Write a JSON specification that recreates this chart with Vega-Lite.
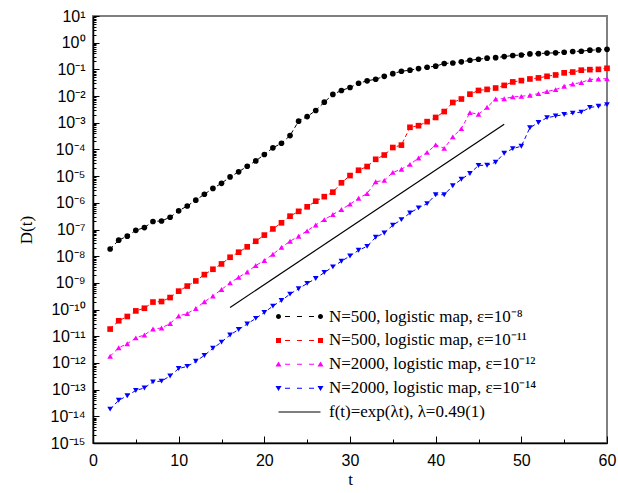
{
  "$schema": "https://vega.github.io/schema/vega-lite/v6.json",
  "width": 514,
  "height": 427,
  "autosize": {"type": "none"},
  "padding": {"left": 93, "top": 16, "right": 11, "bottom": 50},
  "config": {
    "view": {"stroke": "#808080", "strokeWidth": 2},
    "axis": {"domainColor": "#000000", "tickColor": "#000000", "labelColor": "#000000", "titleColor": "#000000", "grid": false},
    "legend": {"labelFont": "Liberation Serif", "labelFontSize": 17, "labelColor": "#000000", "labelLimit": 0}
  },
  "data": {
    "values": [
      {"t": 2, "eps8": 1.86e-8, "eps11": 1.86e-11, "eps12": 1.78e-12, "eps14": 1.86e-14},
      {"t": 3, "eps8": 3.98e-8, "eps11": 3.80e-11, "eps12": 3.72e-12, "eps14": 3.98e-14},
      {"t": 4, "eps8": 5.62e-8, "eps11": 5.50e-11, "eps12": 5.25e-12, "eps14": 5.89e-14},
      {"t": 5, "eps8": 9.33e-8, "eps11": 8.91e-11, "eps12": 8.71e-12, "eps14": 9.33e-14},
      {"t": 6, "eps8": 1.18e-7, "eps11": 1.12e-10, "eps12": 1.12e-11, "eps14": 1.15e-13},
      {"t": 7, "eps8": 2.00e-7, "eps11": 1.91e-10, "eps12": 1.86e-11, "eps14": 1.95e-13},
      {"t": 8, "eps8": 2.09e-7, "eps11": 2.00e-10, "eps12": 2.04e-11, "eps14": 2.09e-13},
      {"t": 9, "eps8": 2.88e-7, "eps11": 2.82e-10, "eps12": 3.02e-11, "eps14": 3.24e-13},
      {"t": 10, "eps8": 5.01e-7, "eps11": 4.90e-10, "eps12": 5.75e-11, "eps14": 6.17e-13},
      {"t": 11, "eps8": 7.59e-7, "eps11": 7.59e-10, "eps12": 7.08e-11, "eps14": 7.41e-13},
      {"t": 12, "eps8": 1.26e-6, "eps11": 1.18e-9, "eps12": 1.10e-10, "eps14": 1.15e-12},
      {"t": 13, "eps8": 2.09e-6, "eps11": 2.04e-9, "eps12": 1.95e-10, "eps14": 1.91e-12},
      {"t": 14, "eps8": 3.47e-6, "eps11": 3.24e-9, "eps12": 3.24e-10, "eps14": 3.55e-12},
      {"t": 15, "eps8": 5.37e-6, "eps11": 5.13e-9, "eps12": 5.62e-10, "eps14": 6.03e-12},
      {"t": 16, "eps8": 9.33e-6, "eps11": 9.12e-9, "eps12": 1.00e-9, "eps14": 1.12e-11},
      {"t": 17, "eps8": 1.45e-5, "eps11": 1.41e-8, "eps12": 1.62e-9, "eps14": 1.78e-11},
      {"t": 18, "eps8": 2.34e-5, "eps11": 2.24e-8, "eps12": 2.57e-9, "eps14": 2.88e-11},
      {"t": 19, "eps8": 3.72e-5, "eps11": 3.63e-8, "eps12": 4.47e-9, "eps14": 4.68e-11},
      {"t": 20, "eps8": 6.46e-5, "eps11": 6.17e-8, "eps12": 6.92e-9, "eps14": 7.76e-11},
      {"t": 21, "eps8": 1.15e-4, "eps11": 1.05e-7, "eps12": 1.18e-8, "eps14": 1.35e-10},
      {"t": 22, "eps8": 1.70e-4, "eps11": 1.78e-7, "eps12": 2.14e-8, "eps14": 2.19e-10},
      {"t": 23, "eps8": 3.31e-4, "eps11": 3.16e-7, "eps12": 3.63e-8, "eps14": 3.80e-10},
      {"t": 24, "eps8": 1.15e-3, "eps11": 4.79e-7, "eps12": 5.62e-8, "eps14": 6.03e-10},
      {"t": 25, "eps8": 1.70e-3, "eps11": 7.08e-7, "eps12": 8.91e-8, "eps14": 9.55e-10},
      {"t": 26, "eps8": 2.88e-3, "eps11": 1.15e-6, "eps12": 1.48e-7, "eps14": 1.45e-9},
      {"t": 27, "eps8": 5.89e-3, "eps11": 1.70e-6, "eps12": 2.34e-7, "eps14": 2.45e-9},
      {"t": 28, "eps8": 1.15e-2, "eps11": 2.51e-6, "eps12": 3.63e-7, "eps14": 3.98e-9},
      {"t": 29, "eps8": 1.62e-2, "eps11": 5.62e-6, "eps12": 5.62e-7, "eps14": 6.46e-9},
      {"t": 30, "eps8": 2.09e-2, "eps11": 1.05e-5, "eps12": 8.91e-7, "eps14": 1.02e-8},
      {"t": 31, "eps8": 3.02e-2, "eps11": 1.66e-5, "eps12": 1.48e-6, "eps14": 1.66e-8},
      {"t": 32, "eps8": 3.72e-2, "eps11": 2.29e-5, "eps12": 2.24e-6, "eps14": 2.34e-8},
      {"t": 33, "eps8": 4.27e-2, "eps11": 4.27e-5, "eps12": 6.17e-6, "eps14": 5.13e-8},
      {"t": 34, "eps8": 5.50e-2, "eps11": 6.17e-5, "eps12": 6.92e-6, "eps14": 7.41e-8},
      {"t": 35, "eps8": 6.92e-2, "eps11": 1.18e-4, "eps12": 1.38e-5, "eps14": 1.45e-7},
      {"t": 36, "eps8": 8.51e-2, "eps11": 1.45e-4, "eps12": 1.82e-5, "eps14": 2.34e-7},
      {"t": 37, "eps8": 9.33e-2, "eps11": 6.76e-4, "eps12": 2.75e-5, "eps14": 4.17e-7},
      {"t": 38, "eps8": 0.107, "eps11": 7.76e-4, "eps12": 4.79e-5, "eps14": 6.46e-7},
      {"t": 39, "eps8": 0.120, "eps11": 1.10e-3, "eps12": 7.76e-5, "eps14": 9.33e-7},
      {"t": 40, "eps8": 0.132, "eps11": 1.58e-3, "eps12": 1.48e-4, "eps14": 2.00e-6},
      {"t": 41, "eps8": 0.166, "eps11": 2.63e-3, "eps12": 1.10e-4, "eps14": 2.00e-6},
      {"t": 42, "eps8": 0.174, "eps11": 5.75e-3, "eps12": 2.95e-4, "eps14": 4.37e-6},
      {"t": 43, "eps8": 0.191, "eps11": 7.76e-3, "eps12": 6.03e-4, "eps14": 7.59e-6},
      {"t": 44, "eps8": 0.219, "eps11": 1.18e-2, "eps12": 2.40e-3, "eps14": 1.26e-5},
      {"t": 45, "eps8": 0.240, "eps11": 1.62e-2, "eps12": 2.09e-3, "eps14": 2.51e-5},
      {"t": 46, "eps8": 0.263, "eps11": 1.78e-2, "eps12": 3.80e-3, "eps14": 2.57e-5},
      {"t": 47, "eps8": 0.275, "eps11": 2.00e-2, "eps12": 7.76e-3, "eps14": 3.31e-5},
      {"t": 48, "eps8": 0.302, "eps11": 2.51e-2, "eps12": 7.94e-3, "eps14": 7.24e-5},
      {"t": 49, "eps8": 0.331, "eps11": 3.39e-2, "eps12": 9.33e-3, "eps14": 1.07e-4},
      {"t": 50, "eps8": 0.347, "eps11": 3.80e-2, "eps12": 9.77e-3, "eps14": 1.32e-4},
      {"t": 51, "eps8": 0.380, "eps11": 4.37e-2, "eps12": 1.07e-2, "eps14": 6.46e-4},
      {"t": 52, "eps8": 0.389, "eps11": 4.79e-2, "eps12": 1.23e-2, "eps14": 1.02e-3},
      {"t": 53, "eps8": 0.407, "eps11": 5.50e-2, "eps12": 1.48e-2, "eps14": 1.55e-3},
      {"t": 54, "eps8": 0.417, "eps11": 6.17e-2, "eps12": 1.74e-2, "eps14": 1.78e-3},
      {"t": 55, "eps8": 0.437, "eps11": 7.41e-2, "eps12": 2.34e-2, "eps14": 2.04e-3},
      {"t": 56, "eps8": 0.468, "eps11": 7.94e-2, "eps12": 2.82e-2, "eps14": 2.29e-3},
      {"t": 57, "eps8": 0.479, "eps11": 9.33e-2, "eps12": 3.24e-2, "eps14": 2.51e-3},
      {"t": 58, "eps8": 0.525, "eps11": 9.77e-2, "eps12": 4.17e-2, "eps14": 3.72e-3},
      {"t": 59, "eps8": 0.537, "eps11": 0.100, "eps12": 4.37e-2, "eps14": 4.17e-3},
      {"t": 60, "eps8": 0.562, "eps11": 0.110, "eps12": 4.47e-2, "eps14": 4.79e-3}
    ]
  },
  "transform": [{"fold": ["eps8", "eps11", "eps12", "eps14"], "as": ["series", "D"]}],
  "encoding": {
    "x": {
      "field": "t", "type": "quantitative",
      "scale": {"domain": [0, 60], "nice": false, "zero": false},
      "axis": {
        "values": [0, 5, 10, 15, 20, 25, 30, 35, 40, 45, 50, 55, 60],
        "labelExpr": "datum.value % 10 === 0 ? datum.label : ''",
        "tickSize": {"condition": {"test": "datum.value % 10 === 0", "value": -7}, "value": -4},
        "labelPadding": 16,
        "labelFont": "Liberation Sans", "labelFontSize": 16,
        "labelFlush": false, "labelOverlap": false,
        "domainWidth": 1.5, "tickWidth": 1,
        "title": "t", "titleFont": "Liberation Serif", "titleFontSize": 17, "titleFontWeight": "normal", "titlePadding": 0
      }
    },
    "y": {
      "field": "D", "type": "quantitative",
      "scale": {"type": "log", "domain": [1e-15, 10], "nice": false},
      "axis": {
        "tickCount": 200,
        "labelExpr": "abs(log(datum.value)/LN10 - round(log(datum.value)/LN10)) > 0.001 ? '' : '10' + (round(log(datum.value)/LN10) < 0 ? '⁻' : '') + (abs(round(log(datum.value)/LN10)) >= 10 ? '¹' : '') + ['⁰','¹','²','³','⁴','⁵','⁶','⁷','⁸','⁹'][abs(round(log(datum.value)/LN10)) % 10]",
        "tickSize": {"condition": {"test": "abs(log(datum.value)/LN10 - round(log(datum.value)/LN10)) < 0.001", "value": -6}, "value": -3},
        "labelPadding": 14,
        "labelFont": "Liberation Sans", "labelFontSize": 16,
        "labelOverlap": false, "labelFlush": false,
        "domainWidth": 1.5, "tickWidth": 1,
        "title": "D(t)", "titleFont": "Liberation Serif", "titleFontSize": 17, "titleFontWeight": "normal", "titlePadding": 15
      }
    },
    "color": {
      "field": "series", "type": "nominal",
      "scale": {"domain": ["eps8", "eps11", "eps12", "eps14", "fit"], "range": ["#000000", "#ff0000", "#ff00ff", "#0000ff", "#000000"]},
      "legend": {
        "orient": "none", "legendX": 198, "legendY": 292,
        "title": null, "padding": 0,
        "labelFont": "Liberation Serif", "labelFontSize": 17, "labelLimit": 0, "labelOffset": 21,
        "symbolSize": 100, "rowPadding": 5.9, "symbolStrokeWidth": 0,
        "labelExpr": "datum.value === 'eps8' ? 'N=500, logistic map, ε=10⁻⁸' : datum.value === 'eps11' ? 'N=500, logistic map, ε=10⁻¹¹' : datum.value === 'eps12' ? 'N=2000, logistic map, ε=10⁻¹²' : datum.value === 'eps14' ? 'N=2000, logistic map, ε=10⁻¹⁴' : 'f(t)=exp(λt), λ=0.49(1)'",
        "encode": {
          "symbols": {
            "update": {
              "shape": {"signal": "['M-3.7,0A0.5,0.5 0 1 1 -4.7,0A0.5,0.5 0 1 1 -3.7,0Z M4.7,0A0.5,0.5 0 1 1 3.7,0A0.5,0.5 0 1 1 4.7,0Z M-2.9,-0.1h1v0.2h-1Z M-0.5,-0.1h1v0.2h-1Z M1.9,-0.1h1v0.2h-1Z', 'M-4.7,-0.5h1v1h-1Z M3.7,-0.5h1v1h-1Z M-2.9,-0.1h1v0.2h-1Z M-0.5,-0.1h1v0.2h-1Z M1.9,-0.1h1v0.2h-1Z', 'M-4.2,-0.55L-3.6,0.45L-4.8,0.45Z M4.2,-0.55L4.8,0.45L3.6,0.45Z M-2.9,-0.1h1v0.2h-1Z M-0.5,-0.1h1v0.2h-1Z M1.9,-0.1h1v0.2h-1Z', 'M-4.2,0.55L-3.6,-0.45L-4.8,-0.45Z M4.2,0.55L4.8,-0.45L3.6,-0.45Z M-2.9,-0.1h1v0.2h-1Z M-0.5,-0.1h1v0.2h-1Z M1.9,-0.1h1v0.2h-1Z', 'M-4.2,-0.1H4.2V0.1H-4.2Z'][datum.index]"},
              "fill": {"signal": "scale('color', datum.value)"},
              "stroke": {"value": "transparent"},
              "opacity": {"value": 1}
            }
          },
          "labels": {
            "update": {
              "font": {"value": "Liberation Serif"},
              "fontSize": {"value": 17},
              "fill": {"value": "#000000"}
            }
          }
        }
      }
    }
  },
  "layer": [
    {
      "mark": {"type": "line", "strokeWidth": 1, "strokeDash": [4, 3]}
    },
    {
      "mark": {"type": "point", "filled": true, "size": 32, "opacity": 1},
      "encoding": {
        "shape": {
          "field": "series", "type": "nominal",
          "scale": {"domain": ["eps8", "eps11", "eps12", "eps14"], "range": ["circle", "square", "triangle-up", "triangle-down"]},
          "legend": null
        }
      }
    },
    {
      "data": {"values": [
        {"t": 16, "D": 1.2e-10, "series": "fit"},
        {"t": 48, "D": 8.7e-4, "series": "fit"}
      ]},
      "transform": [],
      "mark": {"type": "line", "strokeWidth": 1.2}
    }
  ]
}
